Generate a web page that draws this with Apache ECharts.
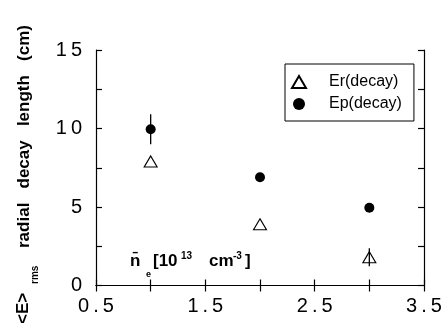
<!DOCTYPE html>
<html>
<head>
<meta charset="utf-8">
<script src="https://cdn.jsdelivr.net/npm/echarts@6/dist/echarts.min.js"></script>
<style>
  html, body { margin: 0; padding: 0; background: #fff; }
  #chart { width: 447px; height: 323px; }
</style>
</head>
<body>
<div id="chart"></div>
<script>
// electron density (10^13 cm^-3)
const density = [1, 2, 3];
// radial decay lengths (cm)
const erDecay = [7.9, 3.9, 1.8];
const epDecay = [9.95, 6.9, 4.95];
// error half-widths, 0 = no bar drawn
const erError = [0, 0, 0.57];
const epError = [0.95, 0, 0];
// labelled ticks
const xLabels = ['0.5', '1.5', '2.5', '3.5'];
const yLabels = ['0', '5', '10', '15'];

const FONT = '"Liberation Sans", Arial, Helvetica, sans-serif';
const spaced = s => s.split('').join('\u2009');

const chart = echarts.init(document.getElementById('chart'));

function axisBase(show) {
  return {
    type: 'value',
    axisLine: { show: true, lineStyle: { color: '#000', width: 1.2 } },
    axisTick: { show: true, inside: true, length: 6, lineStyle: { color: '#000', width: 1.2 } },
    splitLine: { show: false },
    axisLabel: { show: show }
  };
}

const errorSeries = (name, ys, errs) => ({
  name: name + ' err',
  type: 'custom',
  z: 5,
  silent: true,
  data: density.map((x, i) => [x, ys[i], errs[i]]),
  renderItem(params, api) {
    const e = api.value(2);
    if (!e) return null;
    const p1 = api.coord([api.value(0), api.value(1) - e]);
    const p2 = api.coord([api.value(0), api.value(1) + e]);
    return {
      type: 'line',
      shape: { x1: p1[0], y1: p1[1], x2: p2[0], y2: p2[1] },
      style: { stroke: '#000', lineWidth: 1.3 }
    };
  }
});

const option = {
  animation: false,
  textStyle: { fontFamily: FONT },
  grid: { left: 96, right: 23, top: 50, bottom: 37.5 },
  xAxis: [
    Object.assign(axisBase(true), {
      min: 0.5, max: 3.5, interval: 0.5,
      axisLabel: {
        show: true, color: '#000', fontSize: 20, fontFamily: FONT, margin: 11,
        formatter: v => xLabels.includes(String(v)) ? spaced(String(v)) : ''
      }
    }),
    Object.assign(axisBase(false), { position: 'top', min: 0.5, max: 3.5, interval: 0.5 })
  ],
  yAxis: [
    Object.assign(axisBase(true), {
      min: 0, max: 15, interval: 2.5,
      axisLabel: {
        show: true, color: '#000', fontSize: 20, fontFamily: FONT, margin: 14,
        formatter: v => yLabels.includes(String(v)) ? spaced(String(v)) : ''
      }
    }),
    Object.assign(axisBase(false), { position: 'right', min: 0, max: 15, interval: 2.5 })
  ],
  legend: {
    data: ['Er(decay)', 'Ep(decay)'],
    orient: 'vertical',
    left: 285,
    top: 64,
    backgroundColor: '#fff',
    borderColor: '#000',
    borderWidth: 1,
    padding: [10, 12, 9, 6],
    itemGap: 6,
    itemWidth: 14,
    itemHeight: 12,
    textStyle: { color: '#000', fontSize: 16, fontFamily: FONT, padding: [0, 0, 0, 18] }
  },
  graphic: [
    // y axis title (rotated)
    {
      type: 'text', x: 24, y: 248, rotation: Math.PI / 2, z: 10,
      style: { text: 'radial   decay   length   (cm)', font: 'bold 17px ' + FONT, fill: '#000',
               textAlign: 'left', textVerticalAlign: 'middle' }
    },
    {
      type: 'text', x: 35, y: 284, rotation: Math.PI / 2, z: 10,
      style: { text: 'rms', font: 'bold 10px ' + FONT, fill: '#000',
               textAlign: 'left', textVerticalAlign: 'middle' }
    },
    {
      type: 'text', x: 23, y: 324, rotation: Math.PI / 2, z: 10,
      style: { text: '<E>', font: 'bold 17px ' + FONT, fill: '#000',
               textAlign: 'left', textVerticalAlign: 'middle' }
    },
    // x axis title inside the plot
    { type: 'text', x: 130, y: 261, z: 10, style: { text: 'n\u0304', font: 'bold 17px ' + FONT, fill: '#000', textVerticalAlign: 'middle' } },
    { type: 'text', x: 146, y: 275, z: 10, style: { text: 'e', font: 'bold 9px ' + FONT, fill: '#000', textVerticalAlign: 'middle' } },
    { type: 'text', x: 153, y: 261, z: 10, style: { text: '[10', font: 'bold 17px ' + FONT, fill: '#000', textVerticalAlign: 'middle' } },
    { type: 'text', x: 181, y: 256, z: 10, style: { text: '13', font: 'bold 10px ' + FONT, fill: '#000', textVerticalAlign: 'middle' } },
    { type: 'text', x: 209, y: 261, z: 10, style: { text: 'cm', font: 'bold 17px ' + FONT, fill: '#000', textVerticalAlign: 'middle' } },
    { type: 'text', x: 233, y: 256, z: 10, style: { text: '-3', font: 'bold 10px ' + FONT, fill: '#000', textVerticalAlign: 'middle' } },
    { type: 'text', x: 245, y: 261, z: 10, style: { text: ']', font: 'bold 17px ' + FONT, fill: '#000', textVerticalAlign: 'middle' } }
  ],
  series: [
    {
      name: 'Er(decay)',
      type: 'scatter',
      symbol: 'triangle',
      symbolSize: [13, 11],
      z: 3,
      itemStyle: { color: '#fff', borderColor: '#000', borderWidth: 1.1, opacity: 1 },
      data: density.map((x, i) => [x, erDecay[i]])
    },
    {
      name: 'Ep(decay)',
      type: 'scatter',
      symbol: 'circle',
      symbolSize: 10,
      z: 3,
      itemStyle: { color: '#000', opacity: 1 },
      data: density.map((x, i) => [x, epDecay[i]])
    },
    errorSeries('Er(decay)', erDecay, erError),
    errorSeries('Ep(decay)', epDecay, epError)
  ]
};

chart.setOption(option);
</script>
</body>
</html>
